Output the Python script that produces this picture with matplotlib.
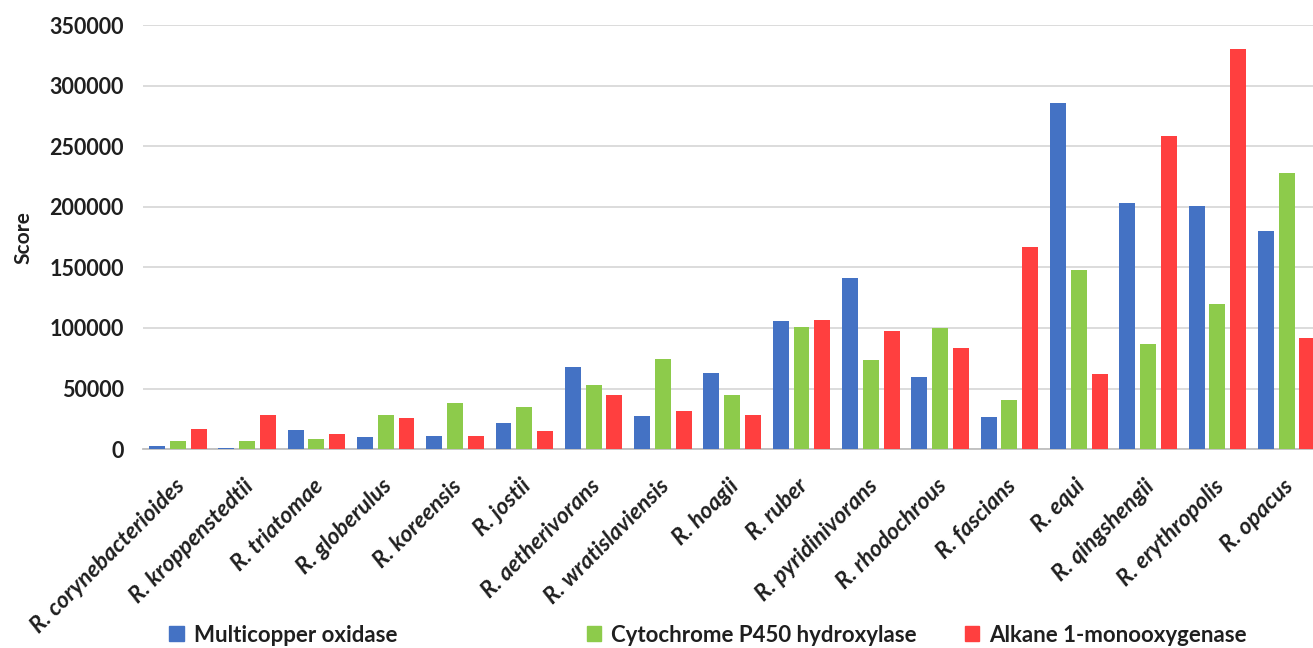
import numpy as np
import matplotlib
matplotlib.use("Agg")
import matplotlib.pyplot as plt
from matplotlib.patches import Patch

species = ["R. corynebacterioides", "R. kroppenstedtii", "R. triatomae", "R. globerulus",
           "R. koreensis", "R. jostii", "R. aetherivorans", "R. wratislaviensis",
           "R. hoagii", "R. ruber", "R. pyridinivorans", "R. rhodochrous",
           "R. fascians", "R. equi", "R. qingshengii", "R. erythropolis", "R. opacus"]

multicopper = [2200, 500, 16000, 9600, 10700, 21200, 68000, 27200,
               62500, 105500, 141500, 59200, 26700, 286000, 203000, 201000, 180500]
cytochrome = [6300, 6800, 8300, 28300, 37700, 34400, 52800, 74000,
              44800, 101000, 73500, 99800, 40500, 148000, 87000, 119800, 227800]
alkane = [16500, 28000, 12600, 25400, 10700, 15200, 44800, 31500,
          27800, 107000, 97400, 83800, 166500, 62000, 258800, 330000, 92000]

series_names = ["Multicopper oxidase", "Cytochrome P450 hydroxylase", "Alkane 1-monooxygenase"]
colors = ["#4472C4", "#8DCB4B", "#FF3F3F"]

plt.rcParams['font.family'] = ['Lato', 'DejaVu Sans']
text_col = '#1f1f1f'

fig = plt.figure(figsize=(13.13, 6.48), dpi=100)
ax = fig.add_axes([0.109, 0.307, 0.891, 0.654])

x = np.arange(len(species))
width = 0.23
offset = 0.30
for k, (vals, col) in enumerate(zip([multicopper, cytochrome, alkane], colors)):
    ax.bar(x + (k - 1) * offset, vals, width, color=col, zorder=3)

ax.set_xlim(-0.5, 16.38)
ax.set_ylim(0, 350000)
ax.set_yticks(np.arange(0, 350001, 50000))
ax.set_yticklabels([str(v) for v in range(0, 350001, 50000)],
                   fontsize=15.5, fontweight='bold', color=text_col)
ax.yaxis.grid(True, color='#d9d9d9', linewidth=1.3, zorder=0)
ax.tick_params(axis='y', length=0, pad=14)
ax.tick_params(axis='x', length=0, pad=19)

ax.set_xticks(x - 0.06)
ax.set_xticklabels(species, rotation=45, ha='right', rotation_mode='anchor',
                   fontsize=16.5, fontweight='bold', fontstyle='italic', color=text_col)

for side in ['top', 'right', 'left']:
    ax.spines[side].set_visible(False)
ax.spines['bottom'].set_color('#bfbfbf')
ax.spines['bottom'].set_linewidth(1.3)

ax.set_ylabel("Score", fontsize=15, fontweight='bold', color=text_col)
ax.yaxis.set_label_coords(-0.094, 0.5)

# legend entries sit at fixed spots along the bottom
legend_x = [0.129, 0.447, 0.735]
for name, col, lx in zip(series_names, colors, legend_x):
    fig.legend(handles=[Patch(color=col)], labels=[name], loc='center left',
               bbox_to_anchor=(lx, 0.02), frameon=False,
               prop={'size': 16, 'weight': 'bold'}, labelcolor=text_col,
               handlelength=0.65, handleheight=0.65, handletextpad=0.45,
               borderaxespad=0, borderpad=0)

fig.savefig("out.png", dpi=100)
